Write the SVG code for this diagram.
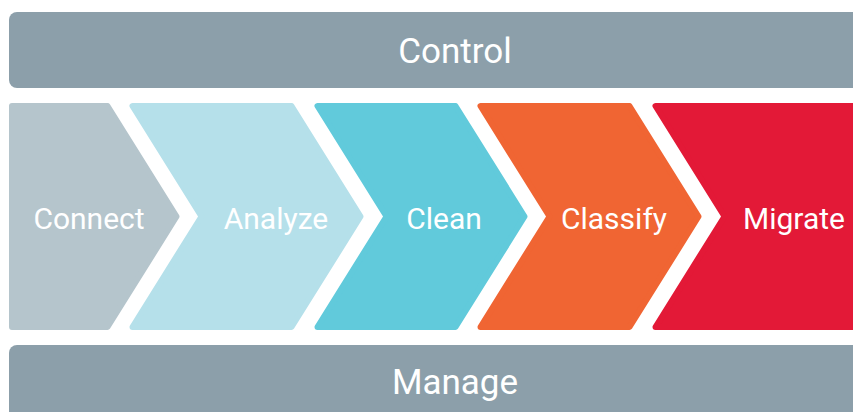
<svg xmlns="http://www.w3.org/2000/svg" width="853" height="412" viewBox="0 0 853 412">
<style>
.bar{fill:#8c9faa}
.chev{stroke-width:6;stroke-linejoin:round}
.lbl{font-family:Roboto,"Liberation Sans",sans-serif;fill:#ffffff;text-anchor:middle}
.big{font-size:35px}
.mid{font-size:30px}
</style>
<rect width="853" height="412" fill="#ffffff"/>
<g id="control">
<rect class="bar" x="9" y="12" width="860" height="76" rx="8"/>
<text class="lbl big" x="455" y="63">Control</text>
</g>
<g id="connect">
<path class="chev" fill="#b5c5cc" stroke="#b5c5cc" d="M12 106 H107.5 L176.5 216.5 L107.5 327 H12 Z"/>
<text class="lbl mid" x="89" y="229">Connect</text>
</g>
<g id="analyze">
<path class="chev" fill="#b5e0ea" stroke="#b5e0ea" d="M132.5 106 H291.5 L360.5 216.5 L291.5 327 H132.5 L201.5 216.5 Z"/>
<text class="lbl mid" x="276" y="229">Analyze</text>
</g>
<g id="clean">
<path class="chev" fill="#61cadb" stroke="#61cadb" d="M317.5 106 H455.5 L524.5 216.5 L455.5 327 H317.5 L386.5 216.5 Z"/>
<text class="lbl mid" x="444" y="229">Clean</text>
</g>
<g id="classify">
<path class="chev" fill="#f06533" stroke="#f06533" d="M480.5 106 H629.5 L698.5 216.5 L629.5 327 H480.5 L549.5 216.5 Z"/>
<text class="lbl mid" x="614" y="229">Classify</text>
</g>
<g id="migrate">
<path class="chev" fill="#e31937" stroke="#e31937" d="M655.5 106 H870 V327 H655.5 L724.5 216.5 Z"/>
<text class="lbl mid" x="794" y="229">Migrate</text>
</g>
<g id="manage">
<rect class="bar" x="9" y="345" width="860" height="80" rx="8"/>
<text class="lbl big" x="455" y="394">Manage</text>
</g>
<g id="connectors"/>
</svg>
